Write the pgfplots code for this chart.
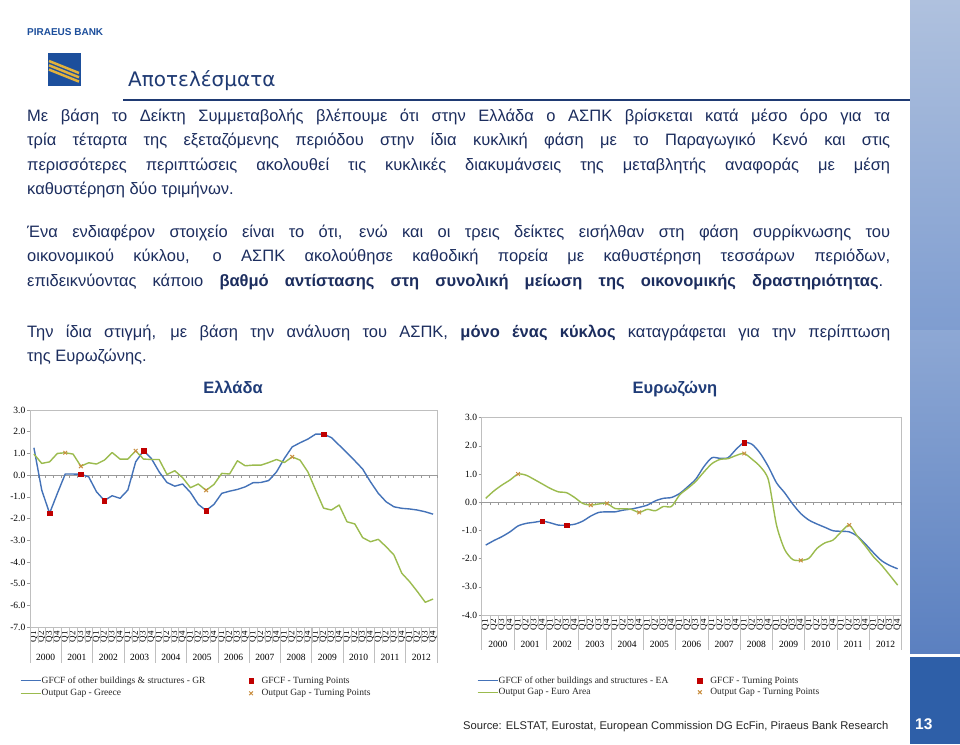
\documentclass[border=0pt]{standalone}
\usepackage{fontspec}
\setmainfont{Liberation Sans}
\newfontfamily\tnr{Liberation Serif}
\newfontfamily\titlefont{DejaVu Sans}
\usepackage{xcolor}
\usepackage{graphicx}
\usepackage{pgfplots}
\usepackage{pgfplotstable}
\pgfplotsset{compat=1.18}

\definecolor{navy}{HTML}{1C2D5E}
\definecolor{titleblue}{HTML}{1F3A73}
\definecolor{chartblue}{HTML}{1F3C78}
\definecolor{logoblue}{HTML}{1D4F9C}
\definecolor{gold}{HTML}{E3B23C}
\definecolor{gfcf}{HTML}{4472B8}
\definecolor{ogap}{HTML}{9BBB4E}
\definecolor{tpred}{HTML}{C00000}
\definecolor{tpxcol}{HTML}{C98E3F}
\definecolor{axgray}{HTML}{9A9A9A}
\definecolor{framegray}{HTML}{BFBFBF}
\definecolor{stripA}{HTML}{AFC1DE}
\definecolor{stripB}{HTML}{7F9DD0}
\definecolor{stripC}{HTML}{5B80C0}
\definecolor{boxblue}{HTML}{2E5FA8}
\definecolor{srcgray}{HTML}{262626}

\pgfplotstableread{
q g o
0 1.26 0.97
1 -0.69 0.54
2 -1.76 0.61
3 -0.84 1.00
4 0.05 1.03
5 0.05 0.97
6 0.04 0.41
7 -0.08 0.57
8 -0.77 0.51
9 -1.17 0.69
10 -0.95 1.04
11 -1.07 0.74
12 -0.69 0.74
13 0.61 1.12
14 1.12 0.74
15 0.77 0.72
16 0.15 0.72
17 -0.34 0.03
18 -0.51 0.20
19 -0.41 -0.12
20 -0.80 -0.58
21 -1.35 -0.41
22 -1.63 -0.70
23 -1.35 -0.43
24 -0.84 0.08
25 -0.74 0.05
26 -0.66 0.66
27 -0.54 0.43
28 -0.35 0.46
29 -0.34 0.46
30 -0.25 0.58
31 0.15 0.72
32 0.77 0.58
33 1.30 0.84
34 1.49 0.69
35 1.66 0.15
36 1.89 -0.69
37 1.89 -1.52
38 1.73 -1.61
39 1.38 -1.38
40 1.03 -2.15
41 0.66 -2.25
42 0.28 -2.88
43 -0.31 -3.07
44 -0.84 -2.96
45 -1.23 -3.30
46 -1.46 -3.68
47 -1.53 -4.52
48 -1.56 -4.91
49 -1.61 -5.37
50 -1.69 -5.86
51 -1.80 -5.71
}\grdata

\pgfplotstableread{
q g o
0 -1.52 0.14
1 -1.36 0.40
2 -1.22 0.61
3 -1.05 0.79
4 -0.84 1.00
5 -0.75 0.96
6 -0.71 0.81
7 -0.67 0.65
8 -0.73 0.49
9 -0.81 0.37
10 -0.81 0.34
11 -0.78 0.17
12 -0.67 -0.04
13 -0.49 -0.10
14 -0.36 -0.06
15 -0.34 -0.04
16 -0.34 -0.22
17 -0.28 -0.23
18 -0.24 -0.25
19 -0.18 -0.36
20 -0.10 -0.25
21 0.05 -0.30
22 0.14 -0.15
23 0.17 -0.15
24 0.31 0.26
25 0.55 0.49
26 0.82 0.74
27 1.26 1.07
28 1.58 1.37
29 1.56 1.52
30 1.58 1.55
31 1.88 1.66
32 2.12 1.73
33 2.05 1.52
34 1.73 1.26
35 1.26 0.79
36 0.69 -0.81
37 0.34 -1.67
38 -0.06 -2.03
39 -0.40 -2.06
40 -0.63 -1.99
41 -0.77 -1.64
42 -0.89 -1.44
43 -1.01 -1.34
44 -1.03 -1.05
45 -1.05 -0.81
46 -1.20 -1.20
47 -1.48 -1.55
48 -1.79 -1.93
49 -2.07 -2.23
50 -2.24 -2.58
51 -2.36 -2.94
}\eadata

\pgfplotsset{
  slide chart/.style={
    scale only axis, clip=false,
    xmin=-0.5, xmax=51.5,
    axis line style={draw=framegray, line width=0.7pt},
    tick style={draw=axgray, line width=0.6pt},
    ytick pos=left, tick align=outside, major tick length=3pt,
    xtick={0,...,51},
    x tick style={draw=none},
    xticklabel={\pgfmathtruncatemacro\qq{mod(\ticknum,4)+1}\rotatebox{90}{Q\qq}},
    xticklabel style={anchor=north, inner sep=1pt, font=\tnr\fontsize{9}{9}\selectfont, text=black},
    yticklabel style={font=\tnr\fontsize{9.5}{10}\selectfont, inner sep=1.5pt, text=black},
    extra x ticks={1.5,5.5,9.5,13.5,17.5,21.5,25.5,29.5,33.5,37.5,41.5,45.5,49.5},
    extra x tick labels={2000,2001,2002,2003,2004,2005,2006,2007,2008,2009,2010,2011,2012},
    legend columns=2, transpose legend, legend cell align=left,
    legend style={draw=none, fill=none, inner sep=0pt, anchor=north west,
      font=\tnr\fontsize{9.5}{11}\selectfont, text=srcgray,
      nodes={inner sep=0.5pt}, row sep=3.5pt},
  },
  gline/.style={color=gfcf, line width=1.4pt, line join=round,
    legend image code/.code={\draw[##1, line width=1pt] (0pt,0pt) -- (20pt,0pt);}},
  oline/.style={color=ogap, line width=1.4pt, line join=round,
    legend image code/.code={\draw[##1, line width=1pt] (0pt,0pt) -- (20pt,0pt);}},
  tpsq/.style={only marks, mark=square*, mark size=2.3pt, color=tpred,
    legend image code/.code={\path[draw=none, fill=none] (0pt,-2.5pt) -- (14pt,2.5pt); \draw[##1] plot coordinates {(4pt,0pt)};}},
  tpx/.style={only marks, mark=x, mark size=2.6pt, color=tpxcol, mark options={line width=1pt},
    legend image code/.code={\path[draw=none, fill=none] (0pt,-2.5pt) -- (14pt,2.5pt); \draw[##1] plot coordinates {(4pt,0pt)};}},
}

\begin{document}
\begin{tikzpicture}[x=1pt,y=1pt]
\fill[white] (0,0) rectangle (960,-744);

% right decorative strip
\shade[top color=stripA, bottom color=stripB] (910,0) rectangle (960,-330);
\shade[top color=stripB!70!stripA, bottom color=stripC] (910,-330) rectangle (960,-653);
\fill[boxblue] (910,-657) rectangle (960,-744);
\node[anchor=base west, inner sep=0, text=white, font=\bfseries\fontsize{15.5}{17}\selectfont] at (915,-729.3) {13};

% logo
\node[anchor=base west, inner sep=0, text=logoblue] at (27,-35) {\resizebox{76pt}{!}{\bfseries PIRAEUS BANK}};
\fill[logoblue] (48,-53) rectangle (81,-86);
\begin{scope}
\clip (48,-53) rectangle (81,-86);
\foreach \k in {0,1,2} {\draw[gold, line width=2.5pt] (49,-61-4.3*\k) -- (79,-73-4.3*\k);}
\end{scope}

% title
\node[anchor=base west, inner sep=0, text=titleblue, font=\titlefont\fontsize{20}{24}\selectfont] at (128,-86) {Αποτελέσματα};
\draw[titleblue, line width=1.5pt] (123,-100) -- (910,-100);

% body text
\begin{scope}[every node/.style={anchor=base west, inner sep=0, text=navy, font=\fontsize{16.5}{20}\selectfont}]
\node at (27,-121) {\makebox[863pt][s]{Με βάση το Δείκτη Συμμεταβολής βλέπουμε ότι στην Ελλάδα ο ΑΣΠΚ βρίσκεται κατά μέσο όρο για τα}};
\node at (27,-145.5) {\makebox[863pt][s]{τρία τέταρτα της εξεταζόμενης περιόδου στην ίδια κυκλική φάση με το Παραγωγικό Κενό και στις}};
\node at (27,-170) {\makebox[863pt][s]{περισσότερες περιπτώσεις ακολουθεί τις κυκλικές διακυμάνσεις της μεταβλητής αναφοράς με μέση}};
\node at (27,-194.5) {καθυστέρηση δύο τριμήνων.};
\node at (27,-237) {\makebox[863pt][s]{Ένα ενδιαφέρον στοιχείο είναι το ότι, ενώ και οι τρεις δείκτες εισήλθαν στη φάση συρρίκνωσης του}};
\node at (27,-261.5) {\makebox[863pt][s]{οικονομικού κύκλου, ο ΑΣΠΚ ακολούθησε καθοδική πορεία με καθυστέρηση τεσσάρων περιόδων,}};
\node at (27,-286) {\makebox[856pt][s]{επιδεικνύοντας κάποιο \textbf{βαθμό αντίστασης στη συνολική μείωση της οικονομικής δραστηριότητας}.}};
\node at (27,-337.3) {\makebox[863pt][s]{Την ίδια στιγμή, με βάση την ανάλυση του ΑΣΠΚ, \textbf{μόνο ένας κύκλος} καταγράφεται για την περίπτωση}};
\node at (27,-361.7) {της Ευρωζώνης.};
\end{scope}

% chart titles
\node[anchor=base, inner sep=0, text=chartblue, font=\bfseries\fontsize{16.5}{18}\selectfont] at (233,-393) {Ελλάδα};
\node[anchor=base, inner sep=0, text=chartblue, font=\bfseries\fontsize{16.5}{18}\selectfont] at (675,-393) {Ευρωζώνη};

% Greece chart
\begin{axis}[slide chart, at={(30pt,-627pt)}, anchor=south west,
  width=407pt, height=217pt, ymin=-7, ymax=3,
  ytick={-7,-6,-5,-4,-3,-2,-1,0,1,2,3},
  yticklabels={-7.0,-6.0,-5.0,-4.0,-3.0,-2.0,-1.0,0.0,1.0,2.0,3.0},
  extra x tick style={major tick length=0pt, xticklabel style={yshift=-26pt, font=\tnr\fontsize{9.5}{10}\selectfont}},
  legend style={at={(-0.0246,-0.2258)}, /tikz/column 2/.style={column sep=41pt}}]
\draw[axgray, line width=0.7pt] (axis cs:-0.5,0) -- (axis cs:51.5,0);
\pgfplotsinvokeforeach{-0.5,0.5,...,51.5}{\draw[axgray, line width=0.5pt] (axis cs:#1,0) -- ++(0pt,-3pt);}
\pgfplotsinvokeforeach{-0.5,0.5,...,51.5}{\draw[framegray, line width=0.5pt] (axis cs:#1,-7) -- ++(0pt,-16pt);}
\pgfplotsinvokeforeach{-0.5,3.5,...,51.5}{\draw[framegray, line width=0.6pt] (axis cs:#1,-7) -- ++(0pt,-36pt);}
\addplot[gline] table[x=q,y=g]{\grdata};
\addlegendentry{GFCF of other buildings \& structures - GR}
\addplot[oline] table[x=q,y=o]{\grdata};
\addlegendentry{Output Gap - Greece}
\addplot[tpsq] coordinates {(2,-1.76) (6,0.04) (9,-1.17) (14,1.12) (22,-1.63) (37,1.89)};
\addlegendentry{GFCF - Turning Points}
\addplot[tpx] coordinates {(4,1.03) (6,0.41) (13,1.12) (22,-0.70) (33,0.84)};
\addlegendentry{Output Gap - Turning Points}
\end{axis}

% Euro area chart
\begin{axis}[slide chart, at={(481.7pt,-615pt)}, anchor=south west,
  width=420pt, height=197.3pt, ymin=-4, ymax=3,
  ytick={-4,-3,-2,-1,0,1,2,3},
  yticklabels={-4.0,-3.0,-2.0,-1.0,0.0,1.0,2.0,3.0},
  extra x tick style={major tick length=0pt, xticklabel style={yshift=-25pt, font=\tnr\fontsize{9.5}{10}\selectfont}},
  legend style={at={(-0.0112,-0.309)}, row sep=2.5pt, /tikz/column 2/.style={column sep=27pt}}]
\draw[axgray, line width=0.7pt] (axis cs:-0.5,0) -- (axis cs:51.5,0);
\pgfplotsinvokeforeach{-0.5,0.5,...,51.5}{\draw[axgray, line width=0.5pt] (axis cs:#1,0) -- ++(0pt,-3pt);}
\pgfplotsinvokeforeach{-0.5,0.5,...,51.5}{\draw[framegray, line width=0.5pt] (axis cs:#1,-4) -- ++(0pt,-14pt);}
\pgfplotsinvokeforeach{-0.5,3.5,...,51.5}{\draw[framegray, line width=0.6pt] (axis cs:#1,-4) -- ++(0pt,-35pt);}
\addplot[gline, smooth, tension=0.45] table[x=q,y=g]{\eadata};
\addlegendentry{GFCF of other buildings and structures - EA}
\addplot[oline, smooth, tension=0.45] table[x=q,y=o]{\eadata};
\addlegendentry{Output Gap - Euro Area}
\addplot[tpsq] coordinates {(7,-0.67) (10,-0.81) (32,2.12)};
\addlegendentry{GFCF - Turning Points}
\addplot[tpx] coordinates {(4,1.00) (13,-0.10) (15,-0.04) (19,-0.36) (32,1.73) (39,-2.06) (45,-0.81)};
\addlegendentry{Output Gap - Turning Points}
\end{axis}

% source
\node[anchor=base west, inner sep=0, text=srcgray, font=\fontsize{11.2}{13}\selectfont] at (463,-729.3) {Source: ELSTAT, Eurostat, European Commission DG EcFin, Piraeus Bank Research};
\end{tikzpicture}
\end{document}
